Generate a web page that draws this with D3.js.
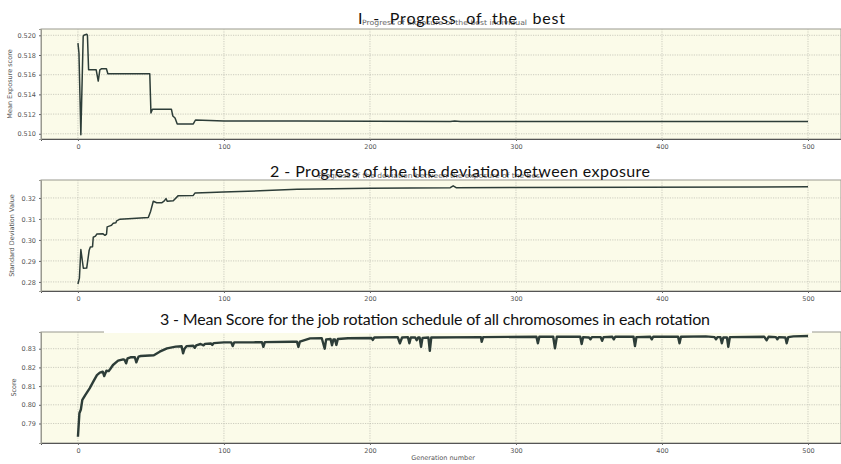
<!DOCTYPE html>
<html><head><meta charset="utf-8">
<script src="https://cdn.jsdelivr.net/npm/d3@7"></script>
<style>body{margin:0;background:#fff}svg{display:block}</style>
</head><body><svg id="c" width="841" height="464"></svg>
<script>
const xTicks = [0, 100, 200, 300, 400, 500];

const gen1 = [0,0.7,2,3.6,4,6,6.5,7.3,12.5,13.9,15,16,19.5,20.5,49.2,50,51,64,65,66.5,68,79,80.5,100,150,255,258,262,300,500];
const val1 = [0.5192,0.5182,0.5099,0.5199,0.5200,0.5201,0.5200,0.5165,0.5165,0.51535,0.5165,0.5166,0.5166,0.5161,0.5161,0.5121,0.5125,0.5125,0.5118,0.5116,0.5110,0.5110,0.5114,0.5113,0.5113,0.51125,0.5113,0.51125,0.51125,0.51125];
const yTicks1 = [0.510,0.512,0.514,0.516,0.518,0.520];

const gen2 = [0,1,2,3.7,6,7.7,8.5,10,10.5,12,13,17,18.5,19.6,20,21.9,23,24.2,26,26.5,28.8,40,48.2,49.8,51.6,53.9,57.3,59,60.3,61.2,65.3,68.7,79,80.1,90.4,99.5,124.7,150,200,255,257,259,300,500];
const val2 = [0.2790,0.2818,0.2954,0.2865,0.2866,0.2951,0.2966,0.2968,0.3013,0.3018,0.3028,0.3030,0.3022,0.3028,0.3062,0.3067,0.3070,0.3080,0.3082,0.3091,0.3099,0.3103,0.3107,0.3137,0.3184,0.3177,0.3177,0.3185,0.3197,0.3184,0.3187,0.3211,0.3212,0.3223,0.3226,0.3228,0.3234,0.3242,0.3246,0.3249,0.3258,0.3249,0.3250,0.3253];
const yTicks2 = [0.28,0.29,0.30,0.31,0.32];

const gen3 = [0,1,2,3,5,8,10.5,13,15,17,18,19.5,21,22,24,27.5,31,32,33,34,36,39,40,41.5,43,52,56,61,67,71,72,73,74.5,79,80,81,84,86,87,91,92,93,100,105,106,107,120,126,127,128,147,150,151,152,159,167,169,170,173,174,175,176,177,178,185,201,202,203,219,220.5,222,226,227,228,231,232,233,234,235,236,240,241,242,276,276.5,277.5,314,315,316,325.5,326.7,328,344,345,346,350,351,352,358,359,360,366,367,368,380.5,381.5,382.5,392,393,394,411,412,413,430,436,437,438,440,441,442,444.5,445.4,446.5,470,471.7,473,478,479,480,484.5,485.4,486.5,490,500];
const val3 = [0.7829,0.7955,0.7975,0.8026,0.8052,0.8088,0.8124,0.8159,0.8172,0.8177,0.8154,0.8182,0.8180,0.8190,0.8213,0.8236,0.8243,0.8240,0.8222,0.8248,0.8254,0.8254,0.8227,0.8258,0.8261,0.8265,0.8284,0.8302,0.8311,0.8313,0.8275,0.8300,0.8314,0.8316,0.8305,0.8318,0.8325,0.8318,0.8326,0.8328,0.8320,0.8330,0.8334,0.8334,0.8314,0.8334,0.8334,0.8335,0.8310,0.8335,0.8337,0.8337,0.8310,0.8338,0.8355,0.8356,0.8300,0.8350,0.8352,0.8318,0.8350,0.8350,0.8320,0.8352,0.8356,0.8357,0.8347,0.8360,0.8362,0.8329,0.8360,0.8362,0.8329,0.8360,0.8360,0.8345,0.8360,0.8360,0.8310,0.8358,0.8360,0.8289,0.8360,0.8362,0.8337,0.8362,0.8364,0.8329,0.8364,0.8364,0.8302,0.8364,0.8364,0.8325,0.8362,0.8360,0.8350,0.8362,0.8362,0.8342,0.8362,0.8364,0.8350,0.8364,0.8364,0.8314,0.8362,0.8364,0.8350,0.8364,0.8364,0.8329,0.8364,0.8366,0.8362,0.8350,0.8362,0.8362,0.8329,0.8360,0.8360,0.8310,0.8362,0.8364,0.8345,0.8364,0.8362,0.8350,0.8362,0.8360,0.8329,0.8362,0.8366,0.8368];
const yTicks3 = [0.79,0.80,0.81,0.82,0.83];

const svg = d3.select("#c");
const BG = "#fbfbe9", LINE = "#2d3d38";
const x = d3.scaleLinear().domain([-25.3, 522.6]).range([41, 841]);

function panel(o) {
  const y = d3.scaleLinear().domain(o.ydom).range([o.bottom, o.top]);
  const g = svg.append("g");
  g.append("rect").attr("x", 41).attr("y", o.top).attr("width", 800).attr("height", o.bottom - o.top)
    .attr("fill", BG).attr("stroke", "#9a9a90").attr("stroke-width", 1);
  // grid
  g.append("g").selectAll("line").data(o.yticks).join("line")
    .attr("x1", 41).attr("x2", 841).attr("y1", d => y(d)).attr("y2", d => y(d))
    .attr("stroke", "#b9b9ad").attr("stroke-width", 0.7).attr("stroke-dasharray", "1.2,1.2");
  g.append("g").selectAll("line").data(xTicks).join("line")
    .attr("y1", o.top).attr("y2", o.bottom).attr("x1", d => x(d)).attr("x2", d => x(d))
    .attr("stroke", "#b9b9ad").attr("stroke-width", 0.7).attr("stroke-dasharray", "1.2,1.2");
  // axes
  const xa = g.append("g").attr("transform", `translate(0,${o.bottom})`)
    .call(d3.axisBottom(x).tickValues(xTicks).tickSize(2).tickPadding(3).tickFormat(d3.format("d")));
  xa.select(".domain").attr("stroke", "#555");
  const ya = g.append("g").attr("transform", `translate(41,0)`)
    .call(d3.axisLeft(y).tickValues(o.yticks).tickSize(2).tickPadding(3).tickFormat(d3.format(o.fmt)));
  ya.select(".domain").attr("stroke", "#9a9a90");
  g.selectAll(".tick text").attr("font-family", "DejaVu Sans").attr("font-size", 6.5).attr("fill", "#555");
  g.selectAll(".tick line").attr("stroke", "#666");
  g.append("text").attr("transform", `translate(${o.ylx},${(o.top + o.bottom) / 2}) rotate(-90)`)
    .attr("text-anchor", "middle").attr("font-family", "DejaVu Sans").attr("font-size", 6.5)
    .attr("fill", "#555").text(o.ylabel);
  const pts = o.gen.map((d, i) => [d, o.val[i]]);
  g.append("path").datum(pts).attr("fill", "none").attr("stroke", LINE)
    .attr("stroke-width", o.sw).attr("stroke-linejoin", "round")
    .attr("d", d3.line().x(d => x(d[0])).y(d => y(d[1])));
  return g;
}

panel({top: 29, bottom: 139, ydom: [0.50947, 0.52064], yticks: yTicks1, fmt: ".3f",
  gen: gen1, val: val1, ylabel: "Mean Exposure score", ylx: 12, sw: 1.5});
panel({top: 180, bottom: 291, ydom: [0.27567, 0.32855], yticks: yTicks2, fmt: ".2f",
  gen: gen2, val: val2, ylabel: "Standard Deviation Value", ylx: 14, sw: 1.5});
panel({top: 332, bottom: 443, ydom: [0.77957, 0.83893], yticks: yTicks3, fmt: ".2f",
  gen: gen3, val: val3, ylabel: "Score", ylx: 16, sw: 2.4});

svg.append("text").attr("x", 443).attr("y", 460).attr("text-anchor", "middle")
  .attr("font-family", "DejaVu Sans").attr("font-size", 6.5).attr("fill", "#555").text("Generation number");

// titles
const small = (t, xx, yy, w) => svg.append("text").attr("x", xx).attr("y", yy)
  .attr("font-family", "DejaVu Sans").attr("font-size", 7.2).attr("fill", "#666")
  .attr("textLength", w).attr("lengthAdjust", "spacingAndGlyphs").text(t);
const big = (t, xx, yy, w) => svg.append("text").attr("x", xx).attr("y", yy)
  .attr("font-family", "Lato").attr("font-size", 16).attr("fill", "#111")
  .attr("textLength", w).attr("lengthAdjust", "spacing").style("white-space", "pre").text(t);

small("Progress of Exposure of the best individual", 362, 25, 165);
big("I  -  Progress  of  the   best", 358, 24, 207);

small("Progress of the deviation between the exposure of the best", 318, 178, 225);
big("2 - Progress of the the deviation between exposure", 270, 177, 380);

svg.append("rect").attr("x", 104).attr("y", 305).attr("width", 708).attr("height", 28).attr("fill", "#fff");
big("3 - Mean Score for the job rotation schedule of all chromosomes in each rotation", 160, 325, 550);
</script></body></html>
